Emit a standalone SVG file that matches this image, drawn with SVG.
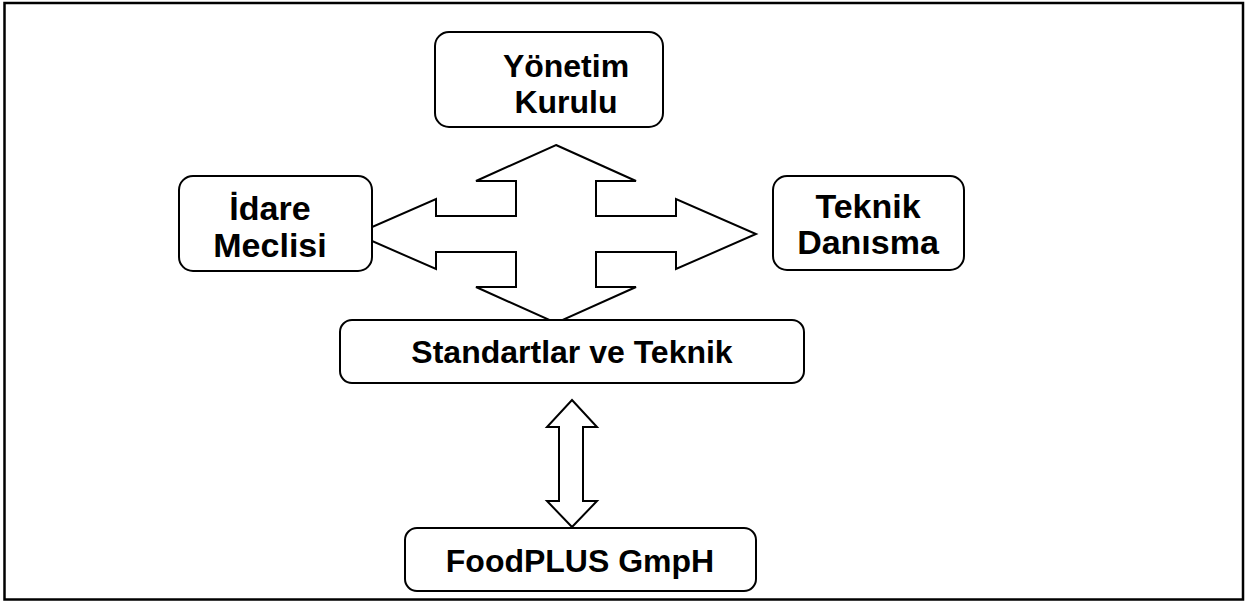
<svg xmlns="http://www.w3.org/2000/svg" width="1258" height="601" viewBox="0 0 1258 601">
<style>
.box{fill:#fff;stroke:#000;stroke-width:2}
.arr{fill:#fff;stroke:#000;stroke-width:2;stroke-linejoin:miter}
.t{font-family:"Liberation Sans",Arial,sans-serif;font-weight:bold;font-size:32px;fill:#000;text-anchor:middle}
.t2{font-size:34px}
</style>
<rect x="0" y="0" width="1258" height="601" fill="#fff"/>
<rect x="4.5" y="3" width="1238.5" height="596.5" fill="none" stroke="#000" stroke-width="2.5"/>
<g id="connectors">
<polygon class="arr" points="556,145 636,181 596,181 596,216 676,216 676,199 756,234 676,269 676,252 596,252 596,287 636,287 556,323 476,287 516,287 516,252 436,252 436,269 356,234 436,199 436,216 516,216 516,181 476,181"/>
<polygon class="arr" points="572,400 597,427 583,427 583,501 597,501 572,527 547,501 559,501 559,427 547,427"/>
</g>
<g id="yonetim">
<rect class="box" x="435" y="32" width="228" height="95" rx="14"/>
<text class="t" x="566" y="77">Yönetim</text>
<text class="t" x="566" y="113">Kurulu</text>
</g>
<g id="idare">
<rect class="box" x="179" y="176" width="193" height="95" rx="14"/>
<text class="t t2" x="270" y="220">İdare</text>
<text class="t t2" x="270" y="257">Meclisi</text>
</g>
<g id="teknik">
<rect class="box" x="773" y="176" width="191" height="94" rx="14"/>
<text class="t t2" x="868" y="218">Teknik</text>
<text class="t t2" x="868" y="254">Danısma</text>
</g>
<g id="standartlar">
<rect class="box" x="340" y="320" width="464" height="63" rx="12"/>
<text class="t" x="572" y="363">Standartlar ve Teknik</text>
</g>
<g id="foodplus">
<rect class="box" x="405" y="528" width="351" height="63" rx="12"/>
<text class="t" x="580" y="572">FoodPLUS GmpH</text>
</g>
</svg>
